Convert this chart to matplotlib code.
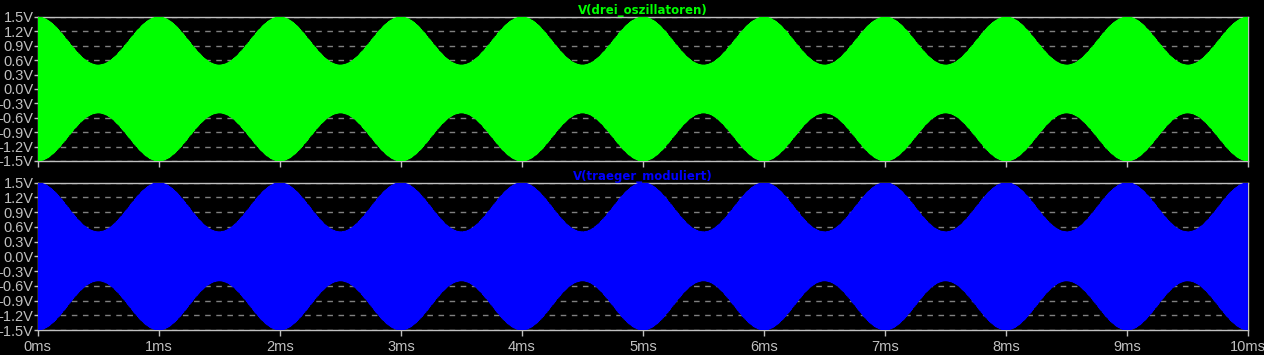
import numpy as np
import matplotlib
matplotlib.use("Agg")
import matplotlib.pyplot as plt

# --- signal components ---
carrier_freq = 100e3          # Hz, dense carrier
mod_freq = 1e3                # Hz, envelope period 1 ms
comp_freqs = [carrier_freq - mod_freq, carrier_freq, carrier_freq + mod_freq]
comp_amps = [0.25, 1.0, 0.25]  # envelope 0.5 V .. 1.5 V

t_stop_ms = 10
x_ticks_ms = [0, 1, 2, 3, 4, 5, 6, 7, 8, 9, 10]
x_tick_labels = [f"{v}ms" for v in x_ticks_ms]
y_ticks = [1.5, 1.2, 0.9, 0.6, 0.3, 0.0, -0.3, -0.6, -0.9, -1.2, -1.5]
y_tick_labels = [f"{v:.1f}V" for v in y_ticks]

traces = ["V(drei_oszillatoren)", "V(traeger_moduliert)"]
trace_colors = ["#00ff00", "#0000ff"]

t = np.linspace(0, t_stop_ms * 1e-3, 400001)
sig = sum(a * np.cos(2 * np.pi * f * t) for a, f in zip(comp_amps, comp_freqs))
t_ms = t * 1e3

W, H = 1264, 355
fig = plt.figure(figsize=(W / 100, H / 100), dpi=100, facecolor="black")

left = 37.7 / W
width = (1248.3 - 37.7) / W
panels = [(17, 161), (182.7, 330)]

axis_col = "#c0c0c0"
grid_col = "#808080"
tick_font = "Liberation Sans"

for i, (y0, y1) in enumerate(panels):
    ax = fig.add_axes([left, 1 - y1 / H, width, (y1 - y0) / H])
    ax.set_facecolor("black")
    ax.plot(t_ms, sig, color=trace_colors[i], lw=0.8, zorder=3)
    ax.set_xlim(0, t_stop_ms)
    ax.set_ylim(-1.5, 1.5)
    ax.set_yticks(y_ticks)
    ax.set_yticklabels(y_tick_labels, fontfamily=tick_font)
    ax.set_xticks(x_ticks_ms)
    if i == 1:
        ax.set_xticklabels(x_tick_labels, fontfamily=tick_font)
    else:
        ax.tick_params(axis="x", length=0, labelbottom=False)
    for s in ax.spines.values():
        s.set_color(axis_col)
        s.set_linewidth(1)
        s.set_zorder(2)
    ax.tick_params(colors=axis_col, labelcolor=axis_col, labelsize=10.5,
                   length=4, width=1, pad=1)
    ax.tick_params(axis="y", length=3, pad=0)
    ax.tick_params(axis="x", pad=3)
    ax.grid(axis="y", color=grid_col, linestyle=(0, (4, 4)), lw=1, zorder=1)
    ax.set_axisbelow(True)
    ax.set_title(traces[i], color=trace_colors[i], fontsize=8.5,
                 fontweight="bold", pad=2)

fig.savefig("out.png", dpi=100, facecolor="black")
